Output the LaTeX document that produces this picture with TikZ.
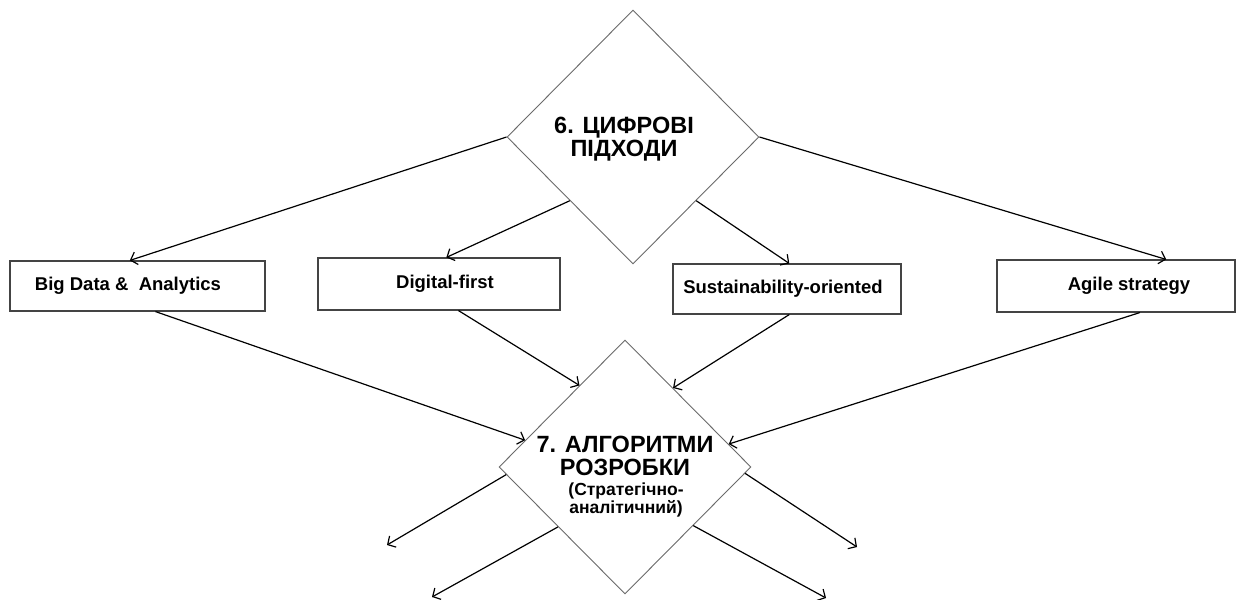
\documentclass[tikz,border=0pt]{standalone}
\usepackage{fontspec}
\setmainfont{Liberation Sans}
\usetikzlibrary{shapes.geometric,arrows.meta,calc}
\definecolor{diamondgrey}{HTML}{6A6A6A}
\definecolor{boxgrey}{HTML}{444444}
\begin{document}
\begin{tikzpicture}[x=1pt,y=-1pt,
  decision/.style={diamond, draw=diamondgrey, line width=0.9pt, fill=white,
    minimum width=252pt, minimum height=254pt, inner sep=0pt},
  stagebox/.style={rectangle, draw=boxgrey, line width=1.1pt, inner sep=0pt},
  boxlabel/.style={font=\bfseries\fontsize{18.5}{20}\selectfont, inner sep=0pt},
  bigtitle/.style={font=\bfseries\fontsize{23.5}{23}\selectfont, align=center, inner sep=0pt},
  subtitle/.style={font=\bfseries\fontsize{17.5}{16}\selectfont, align=center, inner sep=0pt},
  conn/.style={draw=black, line width=1.2pt, -{Straight Barb[length=6pt,width=13pt]}}]

% canvas
\useasboundingbox[fill=white] (0,0) rectangle (1243,600);

% the two decision diamonds
\node[decision] (d1) at (633,137) {};
\node[decision] (d2) at (625,467) {};
\node[bigtitle] (t1) at (624,139) {6. ЦИФРОВІ\\ПІДХОДИ};
\node[bigtitle] (t2) at (625,456) {7. АЛГОРИТМИ\\РОЗРОБКИ};
\node[subtitle] (t3) at (626,500) {(Стратегічно-\\аналітичний)};

% the four approach boxes
\node[stagebox, minimum width=255pt, minimum height=50pt] (b1) at (137.5,286) {};
\node[stagebox, minimum width=242pt, minimum height=52pt] (b2) at (439,284) {};
\node[stagebox, minimum width=228pt, minimum height=50pt] (b3) at (787,289) {};
\node[stagebox, minimum width=238pt, minimum height=52pt] (b4) at (1116,286) {};
\node[boxlabel] (l1) at (128,286) {Big Data \&\ \ Analytics};
\node[boxlabel] (l2) at (445,284) {Digital-first};
\node[boxlabel] (l3) at (783,289) {Sustainability-oriented};
\node[boxlabel] (l4) at (1129,286) {Agile strategy};

% diamond 6 -> boxes
\draw[conn] (d1.west) -- ($(b1.north west)!0.47!(b1.north east)$);
\draw[conn] (d1.south west) -- ($(b2.north west)!0.53!(b2.north east)$);
\draw[conn] (d1.south east) -- ($(b3.north west)!0.51!(b3.north east)$);
\draw[conn] (d1.east) -- ($(b4.north west)!0.71!(b4.north east)$);

% boxes -> diamond 7
\draw[conn] ($(b1.south west)!0.57!(b1.south east)$) -- ($(d2.west)!0.21!(d2.north)$);
\draw[conn] ($(b2.south west)!0.58!(b2.south east)$) -- ($(d2.west)!0.64!(d2.north)$);
\draw[conn] ($(b3.south west)!0.51!(b3.south east)$) -- ($(d2.north)!0.38!(d2.east)$);
\draw[conn] ($(b4.south west)!0.60!(b4.south east)$) -- ($(d2.north)!0.82!(d2.east)$);

% open outputs of diamond 7
\coordinate (o1) at (387,545);
\coordinate (o2) at (432,597);
\coordinate (o3) at (857,547);
\coordinate (o4) at (826,598);
\draw[conn] ($(d2.west)!0.06!(d2.south)$) -- (o1);
\draw[conn] ($(d2.west)!0.47!(d2.south)$) -- (o2);
\draw[conn] ($(d2.east)!0.05!(d2.south)$) -- (o3);
\draw[conn] ($(d2.east)!0.46!(d2.south)$) -- (o4);
\end{tikzpicture}
\end{document}
